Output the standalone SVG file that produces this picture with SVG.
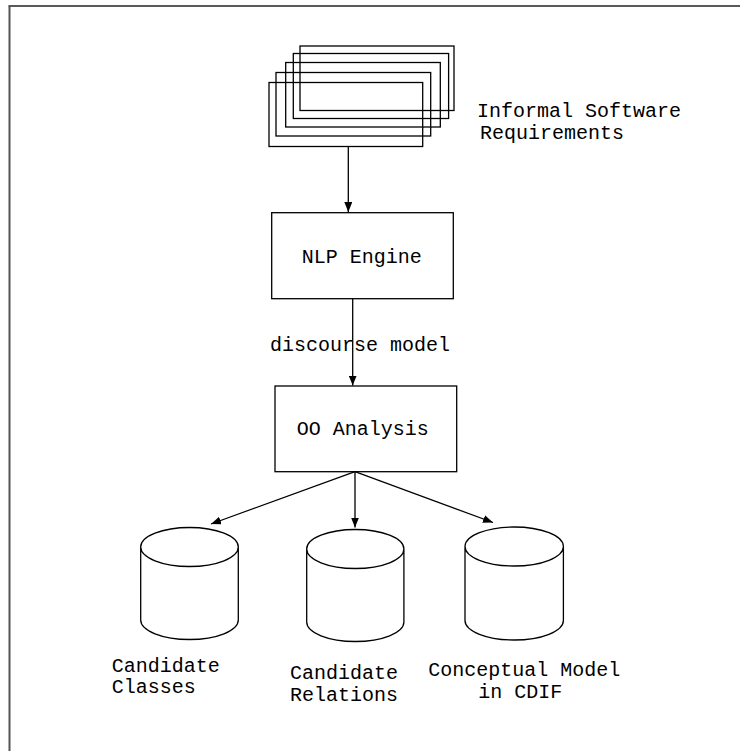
<svg xmlns="http://www.w3.org/2000/svg" width="748" height="751" viewBox="0 0 748 751">
  <style>
    .shape { fill: none; stroke: #000; stroke-width: 1.3; }
    .label { font-family: "Liberation Mono", "Courier New", monospace; font-size: 20px; fill: #000; }
    .edge { stroke: #000; stroke-width: 1.3; fill: none; marker-end: url(#arrow); }
  </style>
  <defs>
    <marker id="arrow" viewBox="0 0 10 8" refX="10" refY="4" markerWidth="10" markerHeight="8" markerUnits="userSpaceOnUse" orient="auto">
      <path d="M0,0 L10,4 L0,8 z" fill="#000"/>
    </marker>
  </defs>

  <rect width="748" height="751" fill="#fff"/>

  <!-- page frame (top and left edges) -->
  <g id="frame">
    <line x1="8.5" y1="6" x2="740" y2="6" stroke="#222" stroke-width="1.6"/>
    <line x1="9.5" y1="6" x2="9.5" y2="751" stroke="#555" stroke-width="2"/>
  </g>

  <!-- stack of document sheets -->
  <g id="requirements">
    <rect class="shape" x="300" y="46" width="154" height="64.5"/>
    <rect class="shape" x="293.3" y="53.5" width="155.3" height="65"/>
    <rect class="shape" x="285.7" y="62.5" width="154.6" height="64.5"/>
    <rect class="shape" x="276" y="72.5" width="154.7" height="63.5"/>
    <rect class="shape" x="269" y="82.5" width="153.7" height="64"/>
    <text class="label" x="477" y="117">Informal Software</text>
    <text class="label" x="480" y="138.5">Requirements</text>
  </g>

  <g id="nlp-engine">
    <rect class="shape" x="271.7" y="212.7" width="181.6" height="86"/>
    <text class="label" x="301.7" y="263">NLP Engine</text>
  </g>

  <g id="oo-analysis">
    <rect class="shape" x="275" y="386" width="181.7" height="85.7"/>
    <text class="label" x="296.7" y="435">OO Analysis</text>
  </g>

  <g id="candidate-classes">
    <path class="shape" d="M140.7,547 A48.8,19.5 0 0 1 238.3,547 A48.8,19.5 0 0 1 140.7,547 Z M140.7,547 V620 A48.8,19.5 0 0 0 238.3,620 V547"/>
    <text class="label" x="111.7" y="671.5">Candidate</text>
    <text class="label" x="111.7" y="693">Classes</text>
  </g>

  <g id="candidate-relations">
    <path class="shape" d="M306.7,549 A48.6,19.5 0 0 1 403.9,549 A48.6,19.5 0 0 1 306.7,549 Z M306.7,549 V622 A48.6,19.5 0 0 0 403.9,622 V549"/>
    <text class="label" x="290" y="679">Candidate</text>
    <text class="label" x="290" y="700.5">Relations</text>
  </g>

  <g id="conceptual-model">
    <path class="shape" d="M465,546.5 A49.2,19.5 0 0 1 563.4,546.5 A49.2,19.5 0 0 1 465,546.5 Z M465,546.5 V620.5 A49.2,19.5 0 0 0 563.4,620.5 V546.5"/>
    <text class="label" x="428.3" y="675.5">Conceptual Model</text>
    <text class="label" x="478.3" y="697.5">in CDIF</text>
  </g>

  <g id="connectors">
    <line class="edge" x1="348.3" y1="146.5" x2="348.3" y2="212"/>
    <line class="edge" x1="352.7" y1="298.7" x2="352.7" y2="385.5"/>
    <text class="label" x="270" y="350.5">discourse model</text>
    <line class="edge" x1="355" y1="471.7" x2="211" y2="524"/>
    <line class="edge" x1="355" y1="471.7" x2="355" y2="527.5"/>
    <line class="edge" x1="355" y1="471.7" x2="493" y2="522.5"/>
  </g>
</svg>
